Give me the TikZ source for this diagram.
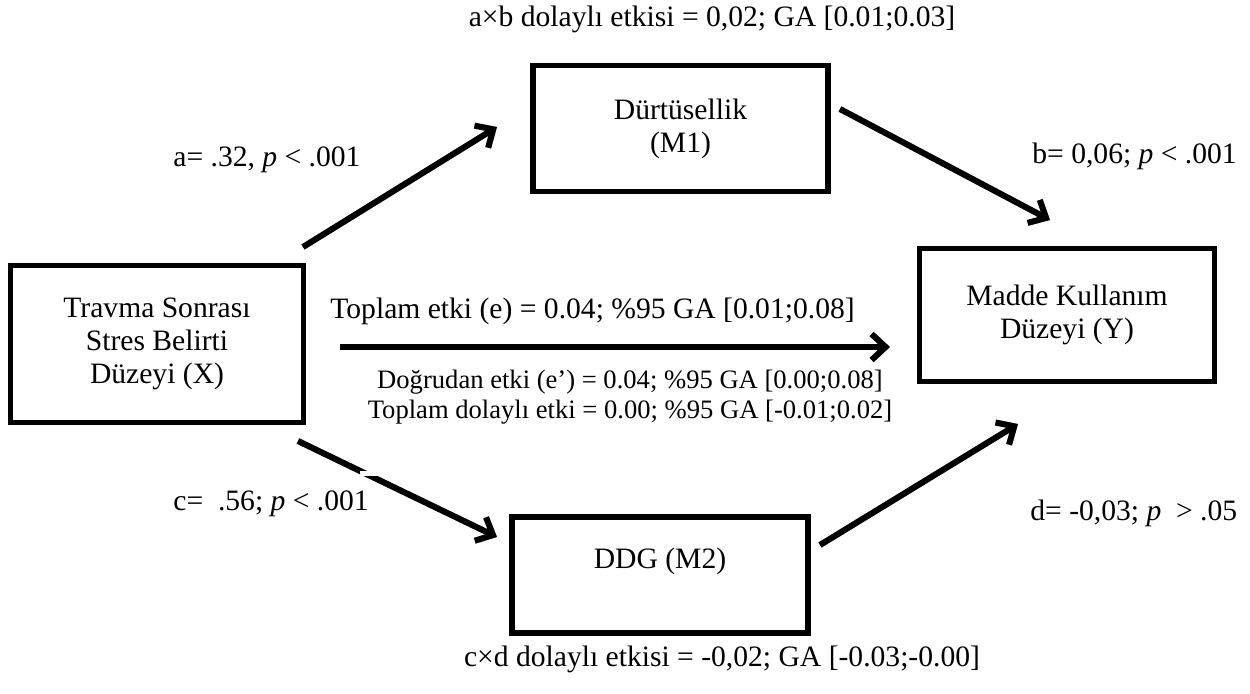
\documentclass[tikz,border=0pt]{standalone}
\usepackage{fontspec}
\setmainfont{Liberation Serif}
\usetikzlibrary{arrows.meta}
\begin{document}
\begin{tikzpicture}[x=0.5pt,y=-0.5pt,
  box/.style={draw=black, line width=2.6pt, inner sep=0pt, align=center,
    font=\fontsize{14.8}{16.5}\selectfont},
  arr/.style={line width=3pt, draw=black, -{Straight Barb[length=7pt,width=13pt,line width=3pt]}},
  shad/.style={arr, draw=black!35, shift={(1.5,2.5)}},
  lbl/.style={font=\fontsize{14.8}{17}\selectfont, inner sep=0pt},
  small/.style={font=\fontsize{13.3}{15}\selectfont, inner sep=0pt, align=center},
]
\useasboundingbox (0,0) rectangle (1250,693);

% boxes
\node[box, minimum width=146.5pt, minimum height=78.5pt] (X) at (157,344)
  {Travma Sonrası\\Stres Belirti\\Düzeyi (X)};
\node[box, minimum width=147.5pt, minimum height=63pt] (M1) at (680.5,128.5)
  {Dürtüsellik\\(M1)};
\node[box, minimum width=147.5pt, minimum height=66.5pt] (Y) at (1067,315)
  {Madde Kullanım\\Düzeyi (Y)};
\node[box, minimum width=148pt, minimum height=58pt] (M2) at (660,575) {};
\node[lbl] (M2text) at (660,561) {DDG (M2)};

% arrow end points
\coordinate (a0) at (303,247); \coordinate (a1) at (497,127);
\coordinate (b0) at (840,109); \coordinate (b1) at (1050,220);
\coordinate (c0) at (298,441); \coordinate (c1) at (497,537);
\coordinate (d0) at (820,545); \coordinate (d1) at (1018,424);
\coordinate (e0) at (340,347); \coordinate (e1) at (890,347);

% shadows
\draw[shad] (a0) -- (a1);
\draw[shad] (b0) -- (b1);
\draw[shad] (c0) -- (c1);
\draw[shad] (d0) -- (d1);
\draw[shad] (e0) -- (e1);
% arrows
\draw[arr] (a0) -- (a1);
\draw[arr] (b0) -- (b1);
\draw[arr] (c0) -- (c1);
\draw[arr] (d0) -- (d1);
\draw[arr] (e0) -- (e1);
% small notch on the c arrow
\fill[white] (360,471) rectangle (378,476);

% labels
\node[lbl] (ab) at (712,19) {a×b dolaylı etkisi = 0,02; GA [0.01;0.03]};
\node[lbl, anchor=west] (la) at (173,160) {a= .32, \textit{p} < .001};
\node[lbl, anchor=west] (lb) at (1032,156) {b= 0,06; \textit{p} < .001};
\node[lbl, anchor=west] (te) at (330,311) {Toplam etki (e) = 0.04; \%95 GA [0.01;0.08]};
\node[small] (de) at (630,397)
  {Doğrudan etki (e’) = 0.04; \%95 GA [0.00;0.08]\\Toplam dolaylı etki = 0.00; \%95 GA [-0.01;0.02]};
\node[lbl, anchor=west] (lc) at (173,504) {c=\ \ .56; \textit{p} < .001};
\node[lbl, anchor=west] (ld) at (1030,513) {d= -0,03; \textit{p}\ \ > .05};
\node[lbl] (cd) at (722,659) {c×d dolaylı etkisi = -0,02; GA [-0.03;-0.00]};
\end{tikzpicture}
\end{document}
